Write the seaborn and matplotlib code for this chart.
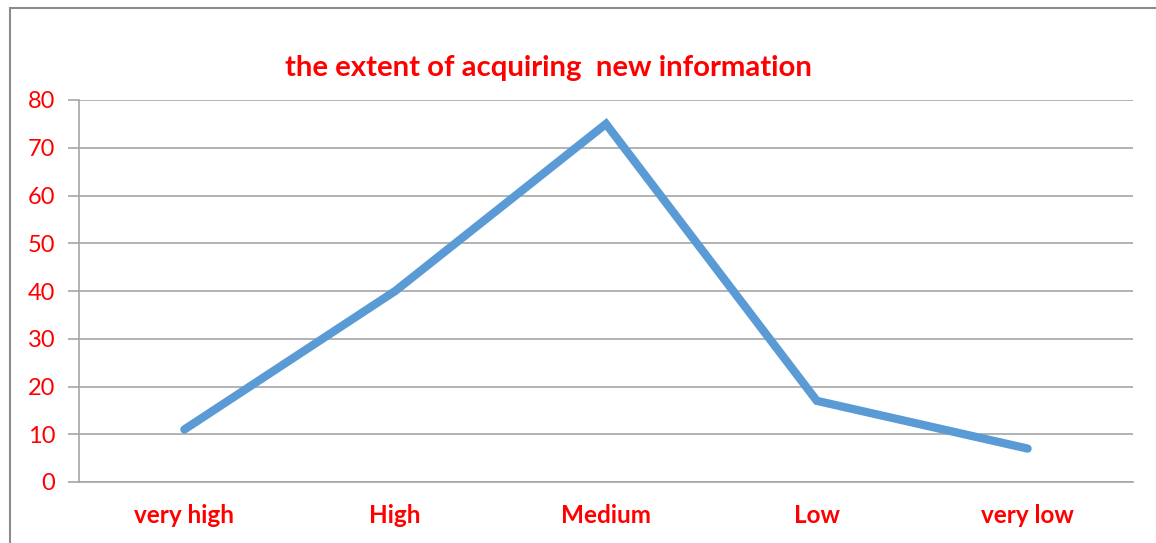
import matplotlib
matplotlib.use("Agg")
import matplotlib.pyplot as plt
from matplotlib.patches import Rectangle
import seaborn as sns
import pandas as pd

categories = ["very high", "High", "Medium", "Low", "very low"]
values = [11, 40, 75, 17, 7]
y_ticks = [0, 10, 20, 30, 40, 50, 60, 70, 80]
title_text = "the extent of acquiring  new information"

sns.set_theme(style="white")
plt.rcParams["font.family"] = ["Lato", "DejaVu Sans"]

RED = "#FF0000"
GRID = "#A6A6A6"
LINE = "#5B9BD5"

df = pd.DataFrame({"level": categories, "pct": values})
df["pos"] = range(len(categories))

fig = plt.figure(figsize=(11.56, 5.43), dpi=100)
ax = fig.add_axes([79 / 1156, 1 - 482 / 543, (1133 - 79) / 1156, (482 - 100) / 543])

sns.lineplot(data=df, x="pos", y="pct", ax=ax, color=LINE, linewidth=6,
             solid_capstyle="round", solid_joinstyle="miter", sort=False)

ax.set_xlim(-0.5, len(categories) - 0.5)
ax.set_ylim(0, 80)
ax.set_yticks(y_ticks)
ax.set_yticklabels([str(t) for t in y_ticks], color=RED, fontsize=17)
ax.yaxis.grid(True, color=GRID, linewidth=1.2)
ax.set_axisbelow(True)

# category labels centred in each slot, tick marks at slot boundaries
ax.set_xticks(range(len(categories)))
ax.set_xticklabels(categories, color=RED, fontsize=17.5, fontweight="bold")
ax.tick_params(axis="x", which="major", length=0, pad=16)
ax.set_xticks([i - 0.5 for i in range(len(categories) + 1)], minor=True)
ax.tick_params(axis="x", which="minor", length=7, width=1.2, color=GRID, direction="out")
ax.tick_params(axis="y", length=8, width=1.2, color=GRID, direction="out", pad=9, left=True)

ax.set_xlabel("")
ax.set_ylabel("")
for side in ["top", "right"]:
    ax.spines[side].set_visible(False)
for side in ["left", "bottom"]:
    ax.spines[side].set_color(GRID)
    ax.spines[side].set_linewidth(1.2)

fig.text(548 / 1156, 1 - 68 / 543, title_text, color=RED, fontsize=21.2,
         fontweight="bold", ha="center", va="center")

# chart frame
fig.patches.append(Rectangle((10 / 1156, -0.1), 1.2, 1 - 8 / 543 + 0.1,
                             transform=fig.transFigure, fill=False,
                             edgecolor="#8C8C8C", linewidth=1.5))

fig.savefig("out.png", dpi=100)
